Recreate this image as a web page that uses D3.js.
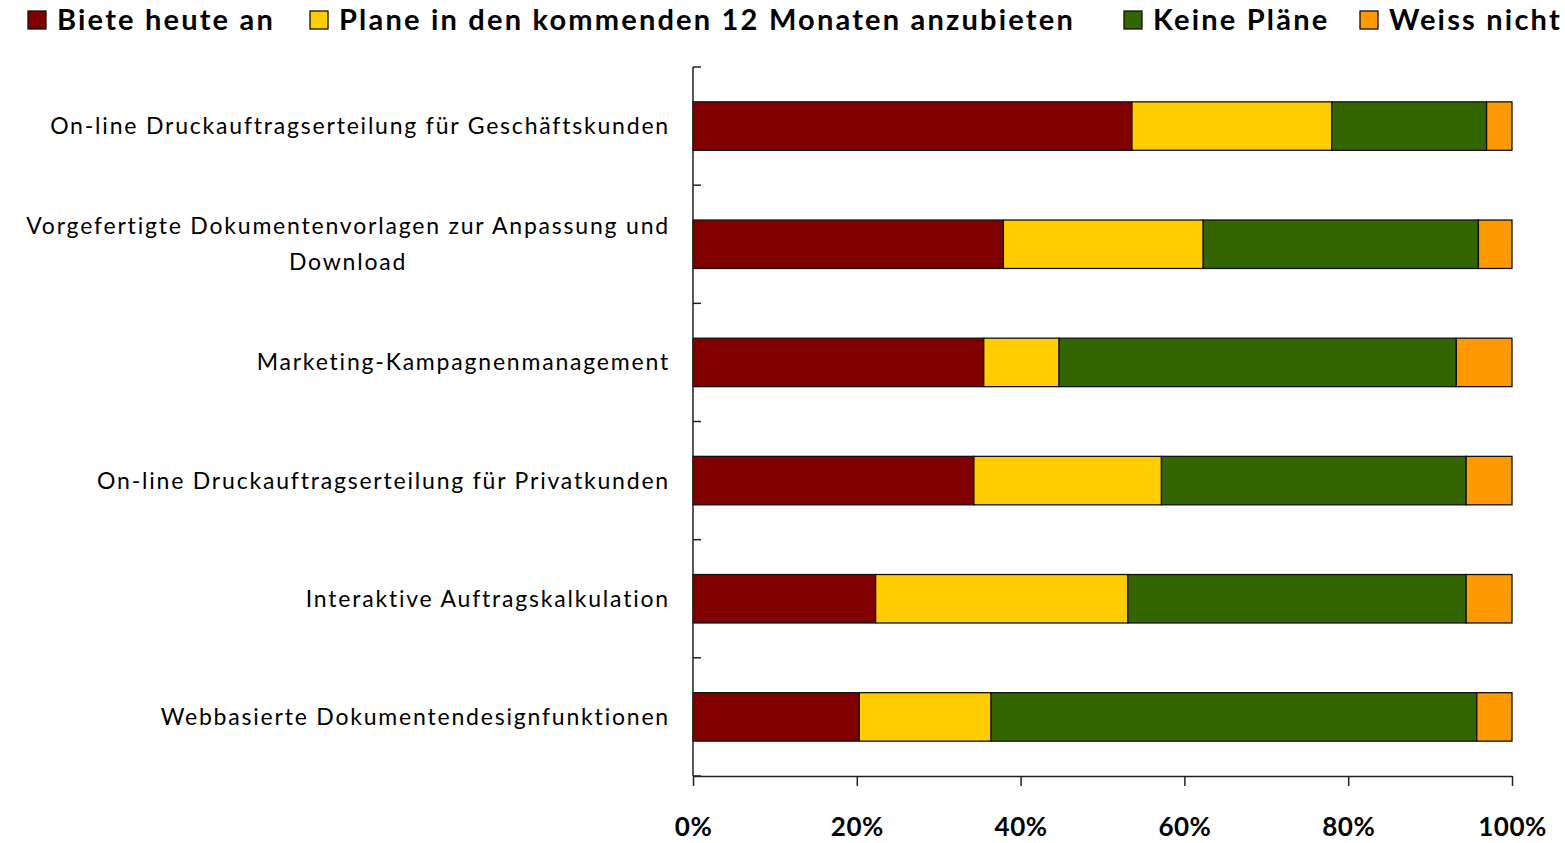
<!DOCTYPE html>
<html>
<head>
<meta charset="utf-8">
<script src="https://cdn.jsdelivr.net/npm/d3@7"></script>
<style>
  body { margin: 0; background: #fff; }
  svg { display: block; font-family: Lato, "Open Sans", sans-serif; }
  .cat { font-size: 23px; letter-spacing: 1.8px; fill: #000; }
  .tick-lbl { font-size: 26px; font-weight: bold; letter-spacing: 0.5px; fill: #000; }
  .legend { font-size: 29px; font-weight: bold; letter-spacing: 2.2px; fill: #000; }
</style>
</head>
<body>
<script>
var w = 1565, h = 843;

// categories top to bottom
var categories = [
  "On-line Druckauftragserteilung für Geschäftskunden",
  "Vorgefertigte Dokumentenvorlagen zur Anpassung und|Download",
  "Marketing-Kampagnenmanagement",
  "On-line Druckauftragserteilung für Privatkunden",
  "Interaktive Auftragskalkulation",
  "Webbasierte Dokumentendesignfunktionen"
];

var seriesNames = ["Biete heute an", "Plane in den kommenden 12 Monaten anzubieten", "Keine Pläne", "Weiss nicht"];
var seriesColors = ["#800000", "#FFCC00", "#336600", "#FF9900"];

// percent per series, same order as categories
var bieteHeute = [53.6, 37.9, 35.5, 34.3, 22.3, 20.3];
var planeIn12  = [24.4, 24.4,  9.2, 22.9, 30.8, 16.1];
var keinePlaene = [18.9, 33.6, 48.5, 37.2, 41.3, 59.3];
var weissNicht = [ 3.1,  4.1,  6.8,  5.6,  5.6,  4.3];

var tickValues = [0, 20, 40, 60, 80, 100];

var margin = {top: 67, left: 693, right: 53, bottom: 67};
var plotW = w - margin.left - margin.right;
var plotH = h - margin.top - margin.bottom;

var svg = d3.select("body").append("svg")
    .attr("width", w)
    .attr("height", h);

var x = d3.scaleLinear().domain([0, 100]).range([0, plotW]);
var y = d3.scaleBand().domain(categories).range([0, plotH]).padding(0);
var barH = y.bandwidth() * 0.41;

var table = categories.map(function(c, i) {
  return {cat: c, s0: bieteHeute[i], s1: planeIn12[i], s2: keinePlaene[i], s3: weissNicht[i]};
});
var stack = d3.stack().keys(["s0", "s1", "s2", "s3"])(table);

var chart = svg.append("g")
    .attr("transform", "translate(" + margin.left + "," + margin.top + ")");

// bars
chart.selectAll(".series")
    .data(stack)
    .enter().append("g")
    .attr("class", "series")
    .attr("fill", function(d, i) { return seriesColors[i]; })
  .selectAll("rect")
    .data(function(d) { return d; })
    .enter().append("rect")
    .attr("x", function(d) { return x(d[0]); })
    .attr("width", function(d) { return x(d[1]) - x(d[0]); })
    .attr("y", function(d) { return y(d.data.cat) + (y.bandwidth() - barH) / 2; })
    .attr("height", barH)
    .attr("stroke", "#111")
    .attr("stroke-width", 1.3);

// y axis: line with inward ticks at band edges
var edges = categories.map(function(c) { return y(c); }).concat([plotH]);
chart.append("line")
    .attr("x1", 0).attr("x2", 0)
    .attr("y1", 0).attr("y2", plotH)
    .attr("stroke", "#222").attr("stroke-width", 1.5);
chart.selectAll(".ytick")
    .data(edges)
    .enter().append("line")
    .attr("class", "ytick")
    .attr("x1", 0).attr("x2", 8)
    .attr("y1", function(d) { return d; })
    .attr("y2", function(d) { return d; })
    .attr("stroke", "#222").attr("stroke-width", 1.5);

// x axis
var xAxis = chart.append("g")
    .attr("transform", "translate(0," + plotH + ")")
    .call(d3.axisBottom(x).tickValues(tickValues).tickSize(10).tickSizeOuter(0).tickFormat(function(d) { return d + "%"; }));
xAxis.attr("font-family", null).attr("font-size", null);
xAxis.select(".domain").attr("stroke", "#222").attr("stroke-width", 1.5);
xAxis.selectAll(".tick line").attr("stroke", "#222").attr("stroke-width", 1.5);
xAxis.selectAll(".tick text")
    .attr("class", "tick-lbl")
    .attr("y", 51)
    .attr("dy", "0.35em");

// category labels
var labelRight = -23;
categories.forEach(function(c) {
  var lines = c.split("|");
  var cy = y(c) + y.bandwidth() / 2;
  var g = chart.append("g");
  var texts = lines.map(function(line, k) {
    return g.append("text")
      .attr("class", "cat")
      .attr("y", cy + (k - (lines.length - 1) / 2) * 36)
      .attr("dy", "0.35em")
      .text(line);
  });
  if (lines.length === 1) {
    texts[0].attr("x", labelRight).attr("text-anchor", "end");
  } else {
    var maxW = d3.max(texts, function(t) { return t.node().getComputedTextLength(); });
    texts.forEach(function(t) {
      t.attr("x", labelRight - maxW / 2).attr("text-anchor", "middle");
    });
  }
});

// legend
var legendX = [28, 310, 1124, 1360];
var legend = svg.append("g").selectAll(".leg")
    .data(seriesNames)
    .enter().append("g")
    .attr("class", "leg")
    .attr("transform", function(d, i) { return "translate(" + legendX[i] + ",11)"; });
legend.append("rect")
    .attr("width", 18).attr("height", 18)
    .attr("fill", function(d, i) { return seriesColors[i]; })
    .attr("stroke", "#111").attr("stroke-width", 1.3);
legend.append("text")
    .attr("class", "legend")
    .attr("x", 29)
    .attr("y", 9)
    .attr("dy", "0.35em")
    .text(function(d) { return d; });
</script>
</body>
</html>
